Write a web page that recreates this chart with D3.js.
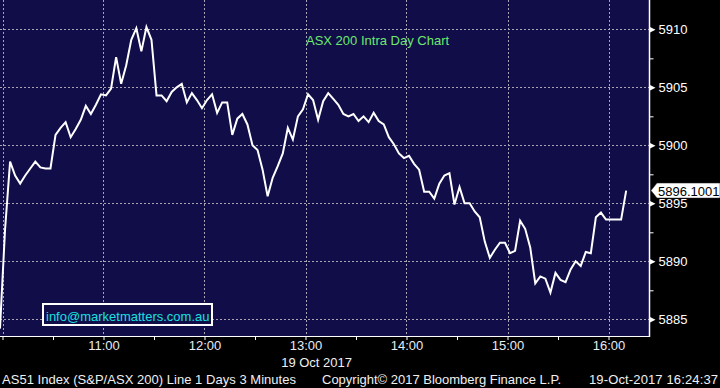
<!doctype html><html><head><style>
body{margin:0;background:#000;}
svg{display:block;font-family:"Liberation Sans",Arial,sans-serif;}
</style></head><body><script src='https://d3js.org/d3.v7.min.js'></script>

<script>
// size of the picture
const W = 720, H = 388;
const plotW = 650, plotH = 336;

// AS51 intraday, 3 minute bars, plotted at mid bar
const startTime   = "09:58:30";
const stepMinutes = 3;
const values = [
  5884.2, 5892.7, 5898.6, 5897.4, 5896.7, 5897.4, 5898.0, 5898.6, 5898.1, 5898.0,
  5898.0, 5900.9, 5901.5, 5902.0, 5900.7, 5901.4, 5902.2, 5903.4, 5902.7, 5903.5,
  5904.4, 5904.3, 5904.9, 5907.6, 5905.3, 5906.9, 5909.1, 5910.1, 5908.1, 5910.2,
  5909.1, 5904.3, 5904.3, 5903.8, 5904.6, 5905.0, 5905.3, 5903.7, 5904.5, 5903.9,
  5903.2, 5903.9, 5904.4, 5902.8, 5903.7, 5903.7, 5900.9, 5902.3, 5902.7, 5901.8,
  5900.0, 5899.6, 5897.9, 5895.6, 5897.2, 5898.2, 5899.3, 5901.5, 5900.5, 5902.5,
  5903.1, 5904.4, 5903.9, 5902.2, 5903.8, 5904.5, 5904.0, 5903.5, 5902.7, 5902.5,
  5902.7, 5902.1, 5902.5, 5902.0, 5902.8, 5902.1, 5901.8, 5900.7, 5900.1, 5899.3,
  5898.9, 5899.1, 5898.4, 5897.9, 5896.0, 5896.0, 5895.4, 5896.7, 5897.4, 5897.6,
  5894.9, 5896.4, 5895.0, 5895.0, 5894.3, 5893.8, 5891.7, 5890.3, 5891.0, 5891.6,
  5891.6, 5890.7, 5890.9, 5893.5, 5892.8, 5891.2, 5888.1, 5888.7, 5888.5, 5887.3,
  5889.0, 5888.4, 5888.2, 5889.3, 5890.0, 5889.6, 5890.8, 5890.7, 5893.8, 5894.2,
  5893.6, 5893.6, 5893.6, 5893.6, 5896.1001
];

const yTicks   = [5885, 5890, 5895, 5900, 5905, 5910];
const yMinor   = [5887.5, 5892.5, 5897.5, 5902.5, 5907.5];
const hourTicks = ["10:00", "11:00", "12:00", "13:00", "14:00", "15:00", "16:00"];
const lastLabel = "5896.1001";

const parse = d3.timeParse("%H:%M:%S");
const t0 = parse(startTime);
const data = values.map((v, i) => ({t: d3.timeMinute.offset(t0, i * stepMinutes), v: v}));
const hours = hourTicks.map(h => parse(h + ":00"));

const x = d3.scaleTime()
            .domain([hours[0], hours[hours.length - 1]])
            .range([2.5, 608.5]);
const y = d3.scaleLinear()
            .domain([5883.56, 5912.53])
            .range([plotH, 0]);

const svg = d3.select("body").append("svg")
              .attr("width", W).attr("height", H);

svg.append("rect").attr("width", W).attr("height", H).attr("fill", "#000");
svg.append("rect").attr("width", plotW).attr("height", plotH).attr("fill", "#100d48");

// grid
const grid = svg.append("g").attr("stroke", "#a8a4b4").attr("stroke-width", 1)
                .attr("stroke-dasharray", "2,2");
grid.selectAll("line.h").data(yTicks).join("line")
    .attr("x1", 0).attr("x2", plotW)
    .attr("y1", d => Math.round(y(d)) + 0.5).attr("y2", d => Math.round(y(d)) + 0.5);
grid.selectAll("line.v").data(hours).join("line")
    .attr("y1", 0).attr("y2", plotH)
    .attr("x1", d => Math.round(x(d)) + 0.5).attr("x2", d => Math.round(x(d)) + 0.5);

// title
svg.append("text").attr("x", 306).attr("y", 45)
   .attr("fill", "#6ee86e").attr("font-size", 13)
   .text("ASX 200 Intra Day Chart");

// clip for the line
svg.append("clipPath").attr("id", "clip")
   .append("rect").attr("width", plotW).attr("height", plotH);

svg.append("path")
   .datum(data)
   .attr("clip-path", "url(#clip)")
   .attr("fill", "none")
   .attr("stroke", "#fff")
   .attr("stroke-width", 2)
   .attr("stroke-linejoin", "miter")
   .attr("d", d3.line().x(d => x(d.t)).y(d => y(d.v)));

// email box
svg.append("rect").attr("x", 43).attr("y", 304).attr("width", 169).attr("height", 21)
   .attr("fill", "#100d48").attr("stroke", "#fff").attr("stroke-width", 2);
svg.append("text").attr("x", 46).attr("y", 320.5)
   .attr("fill", "#19e0e0").attr("font-size", 13)
   .text("info@marketmatters.com.au");

// right axis
const yAxis = svg.append("g")
   .attr("transform", `translate(${plotW - 0.5},0)`)
   .call(d3.axisRight(y).tickValues(yTicks).tickSize(0).tickPadding(9).tickFormat(d3.format("d")));
yAxis.select(".domain").remove();
yAxis.selectAll("text").attr("fill", "#fff").attr("font-size", 13)
     .attr("font-family", "'Liberation Sans',Arial,sans-serif");
yAxis.selectAll(".tick").append("path")
     .attr("d", "M0,-3L6,0L0,3Z").attr("fill", "#fff");

const yMinorAxis = svg.append("g")
   .attr("transform", `translate(${plotW - 0.5},0)`)
   .call(d3.axisRight(y).tickValues(yMinor).tickSize(4).tickFormat(""));
yMinorAxis.select(".domain").remove();
yMinorAxis.selectAll("line").attr("stroke", "#fff");

svg.append("line").attr("x1", plotW - 0.5).attr("x2", plotW - 0.5)
   .attr("y1", 0).attr("y2", plotH + 1).attr("stroke", "#fff").attr("stroke-width", 1.5);

// bottom axis
const xAxis = svg.append("g")
   .attr("transform", `translate(0,${plotH})`)
   .call(d3.axisBottom(x)
           .ticks(d3.timeMinute.every(30))
           .tickSize(4).tickPadding(1)
           .tickFormat(d => (d.getMinutes() === 0 && d.getHours() > 10) ? d3.timeFormat("%H:%M")(d) : ""));
xAxis.select(".domain").attr("stroke", "#fff").attr("d", `M0,0.5H${plotW}`);
xAxis.selectAll("line").attr("stroke", "#fff");
xAxis.selectAll("text").attr("fill", "#e8ecf4").attr("font-size", 13)
     .attr("font-family", "'Liberation Sans',Arial,sans-serif");

svg.append("text").attr("x", 352).attr("y", 366.5).attr("text-anchor", "end")
   .attr("fill", "#f0f0f0").attr("font-size", 13).text("19 Oct 2017");

// last price label
const ly = y(values[values.length - 1]);
svg.append("path")
   .attr("d", `M${plotW + 1},${ly}L${plotW + 7},${ly - 7.5}H${W}V${ly + 7.5}H${plotW + 7}Z`)
   .attr("fill", "#fff").attr("stroke", "#222").attr("stroke-width", 0.5);
svg.append("text").attr("x", 658).attr("y", ly + 5)
   .attr("fill", "#000").attr("font-size", 13).text(lastLabel);

// footer
const foot = svg.append("g").attr("fill", "#f0f0f0").attr("font-size", 13);
foot.append("text").attr("x", 2).attr("y", 384)
    .attr("textLength", 294).attr("lengthAdjust", "spacing")
    .text("AS51 Index (S&P/ASX 200) Line 1 Days 3 Minutes");
foot.append("text").attr("x", 322).attr("y", 384)
    .attr("textLength", 239).attr("lengthAdjust", "spacing")
    .text("Copyright\u00a9 2017 Bloomberg Finance L.P.");
foot.append("text").attr("x", 589).attr("y", 384)
    .attr("textLength", 129).attr("lengthAdjust", "spacing")
    .text("19-Oct-2017 16:24:37");
</script></body></html>
